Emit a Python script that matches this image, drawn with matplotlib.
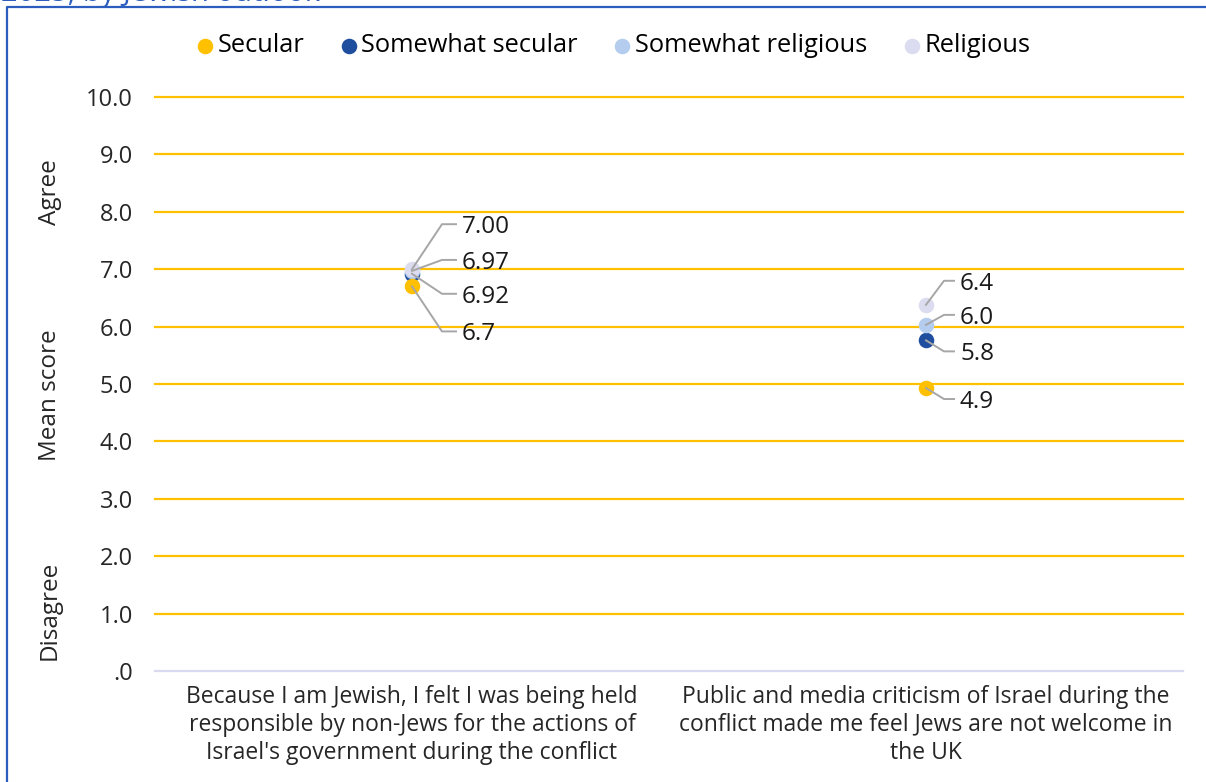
import numpy as np
import matplotlib.pyplot as plt

plt.rcParams['font.family'] = ['Open Sans', 'DejaVu Sans']

categories = ["Because I am Jewish, I felt I was being held\nresponsible by non-Jews for the actions of\nIsrael's government during the conflict",
              "Public and media criticism of Israel during the\nconflict made me feel Jews are not welcome in\nthe UK"]
series = ["Secular", "Somewhat secular", "Somewhat religious", "Religious"]
secular = [6.70, 4.93]
somewhat_secular = [6.92, 5.76]
somewhat_religious = [6.97, 6.03]
religious = [7.00, 6.38]
labels_secular = ["6.7", "4.9"]
labels_somewhat_secular = ["6.92", "5.8"]
labels_somewhat_religious = ["6.97", "6.0"]
labels_religious = ["7.00", "6.4"]
yticks = [0, 1, 2, 3, 4, 5, 6, 7, 8, 9, 10]
ytick_labels = [".0", "1.0", "2.0", "3.0", "4.0", "5.0", "6.0", "7.0", "8.0", "9.0", "10.0"]

colors = ["#FFC000", "#1F4E9F", "#B4CCEE", "#DCDCF0"]
values = [secular, somewhat_secular, somewhat_religious, religious]
point_labels = [labels_secular, labels_somewhat_secular, labels_somewhat_religious, labels_religious]

# leader elbow offsets in image pixels (positive = downwards), per series, per category
label_dy = [[45, 11], [20, 11], [-11, -10], [-45, -24]]
elbow_dx = [30, 18]
tail_len = [14, 10]

W, H = 1206, 782
fig = plt.figure(figsize=(W / 100, H / 100), dpi=100)
ax = fig.add_axes([155 / W, 1 - 671 / H, (1183 - 155) / W, (671 - 97) / H])

x = np.arange(len(categories))
zorders = [5, 3, 3, 4]
for v, c, name, z in zip(values, colors, series, zorders):
    ax.scatter(x, v, s=125, color=c, zorder=z, label=name, linewidths=0)

ax.set_ylim(0, 10)
ax.set_xlim(-0.5, 1.5)
ax.set_yticks(yticks)
ax.set_yticklabels(ytick_labels, fontsize=17, color="#262626")
ax.set_xticks(x)
ax.set_xticklabels(categories, fontsize=16.5, color="#262626", linespacing=1.22)
ax.tick_params(length=0)
ax.tick_params(axis='y', pad=16)
ax.tick_params(axis='x', pad=10)
for y in yticks[1:]:
    ax.axhline(y, color="#FFC000", lw=1.6, zorder=1, clip_on=False)
for s in ["top", "right", "left"]:
    ax.spines[s].set_visible(False)
ax.spines["bottom"].set_color("#D9D9F0")
ax.spines["bottom"].set_linewidth(1.6)

# leader lines + value labels (pixel space)
fig.canvas.draw()
for si, (v, labs) in enumerate(zip(values, point_labels)):
    for ci in range(len(categories)):
        px, py = ax.transData.transform((x[ci], v[ci]))
        ex, ey = px + elbow_dx[ci], py - label_dy[si][ci]
        fig.add_artist(plt.Line2D([px, ex, ex + tail_len[ci]], [py, ey, ey], transform=None,
                                  color="#A6A6A6", lw=1.4, zorder=2))
        fig.text((ex + tail_len[ci] + 6) / W, (ey - 3) / H, labs[ci], fontsize=17.5,
                 color="#1a1a1a", va="center", ha="left")

# axis side labels
for txt, yc in [("Mean score", 395), ("Agree", 192), ("Disagree", 610)]:
    fig.text(50 / W, 1 - yc / H, txt, rotation=90, fontsize=17.5, va="center", ha="center",
             color="#262626")

fig.legend(loc="center", bbox_to_anchor=(0.509, 1 - 46 / H), ncol=4, frameon=False,
           fontsize=18.3, handlelength=0.6, handletextpad=0.2, columnspacing=1.45,
           markerscale=1.0)

# frame and clipped title
fig.add_artist(plt.Line2D([7 / W, 7 / W, 1], [0, 1 - 7 / H, 1 - 7 / H], transform=fig.transFigure,
                          color="#2C5DBE", lw=1.6))
fig.text(1 / W, 1 - 1 / H, "2025, by Jewish outlook", fontsize=21, color="#2C5DBE",
         va="baseline", ha="left")

fig.savefig("out.png", dpi=100)
